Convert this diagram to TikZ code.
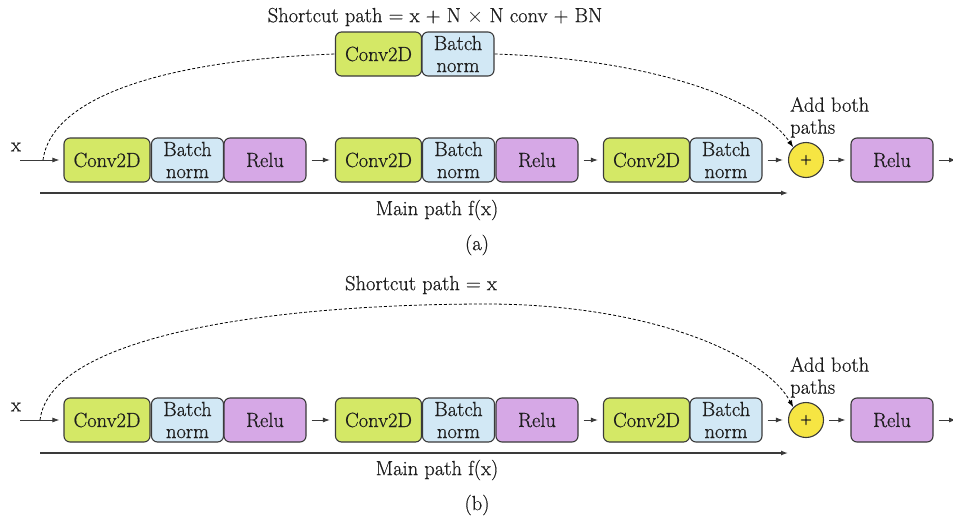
\documentclass[tikz,border=0pt]{standalone}
\usepackage{fontspec}
\setmainfont{Latin Modern Roman}[FakeBold=0.6]
\usetikzlibrary{arrows.meta}

\definecolor{convgreen}{HTML}{D4E866}
\definecolor{bnblue}{HTML}{D2E8F5}
\definecolor{relupurple}{HTML}{D6A8E6}
\definecolor{addyellow}{HTML}{F6E543}
\definecolor{edgegray}{HTML}{3A3A3A}
\definecolor{txt}{HTML}{1E1E1E}

\tikzset{
  blk/.style={draw=edgegray, line width=1.1pt, rounded corners=6pt,
    minimum height=44pt, inner sep=0pt, align=center,
    font=\fontsize{20.5}{22}\selectfont, text=txt},
  conv/.style={blk, fill=convgreen, minimum width=86pt},
  bn/.style={blk, fill=bnblue, minimum width=72pt},
  relu/.style={blk, fill=relupurple, minimum width=82pt},
  addnode/.style={circle, draw=edgegray, line width=1.1pt, fill=addyellow,
    minimum size=35pt, inner sep=0pt, font=\fontsize{16}{16}\selectfont, text=txt},
  tip/.style={-{Latex[length=7pt,width=5pt]}},
  flow/.style={tip, line width=0.9pt, draw=edgegray, shorten <=5pt, shorten >=5pt},
  inflow/.style={tip, line width=0.9pt, draw=edgegray, shorten >=4pt},
  mainline/.style={tip, line width=1.3pt, draw=edgegray},
  skip/.style={dash pattern=on 3pt off 2pt, line width=0.8pt, draw=black},
  lbl/.style={font=\fontsize{20.5}{22}\selectfont, text=txt, inner sep=0pt},
}

\begin{document}
\begin{tikzpicture}[x=1pt, y=-1pt]
  \useasboundingbox (0,0) rectangle (953,522);

  % the residual block, drawn once per panel
  \foreach \p/\dy/\cap in {a/0/(a), b/260/(b)} {
    \begin{scope}[yshift=-\dy pt]
      \node[lbl] (\p xl) at (16,147) {x};
      \coordinate (\p xin) at (20,160);
      \node[conv] (\p c1) at (107,160) {Conv2D};
      \node[bn] (\p b1) at (187.5,160) {Batch\\norm};
      \node[relu] (\p r1) at (265,160) {Relu};
      \node[conv] (\p c2) at (378.5,160) {Conv2D};
      \node[bn] (\p b2) at (458.5,160) {Batch\\norm};
      \node[relu] (\p r2) at (537,160) {Relu};
      \node[conv] (\p c3) at (646.5,160) {Conv2D};
      \node[bn] (\p b3) at (726,160) {Batch\\norm};
      \node[addnode] (\p add) at (806,160) {+};
      \node[relu] (\p r4) at (892,160) {Relu};
      \coordinate (\p out) at (956,160);

      \node[lbl, align=left, anchor=north west] (\p addl) at (790,97)
        {Add both\\paths};

      \draw[inflow] (\p xin) -- (\p c1.west);
      \draw[flow] (\p r1.east) -- (\p c2.west);
      \draw[flow] (\p r2.east) -- (\p c3.west);
      \draw[flow] (\p b3.east) -- (\p add.west);
      \draw[flow] (\p add.east) -- (\p r4.west);
      \draw[flow, shorten >=0pt] (\p r4.east) -- (\p out);

      \coordinate (\p m1) at (40,193);
      \coordinate (\p m2) at (788,193);
      \draw[mainline] (\p m1) -- (\p m2);
      \node[lbl] (\p ml) at (437,210) {Main path f(x)};
      \node[lbl] (\p cap) at (477,245) {\cap};
    \end{scope}
  }

  % (a): projection shortcut through a convolution and batch norm
  \node[lbl] (ashort) at (435,17) {Shortcut path = x + N $\times$ N conv + BN};
  \node[conv] (asc) at (378.5,54) {Conv2D};
  \node[bn] (asb) at (458,54) {Batch\\norm};
  \coordinate (as0) at (43,160);
  \draw[skip] (as0) .. controls (52,95) and (170,60) .. (asc.west);
  \draw[skip, tip] (asb.east) .. controls (630,58) and (755,92) .. (aadd.north west);

  % (b): identity shortcut
  \node[lbl] (bshort) at (421,285) {Shortcut path = x};
  \coordinate (bs0) at (40,420);
  \draw[skip, tip] (bs0) .. controls (50,340) and (250,305) .. (480,304)
    .. controls (650,303) and (765,355) .. (badd.north west);
\end{tikzpicture}
\end{document}
